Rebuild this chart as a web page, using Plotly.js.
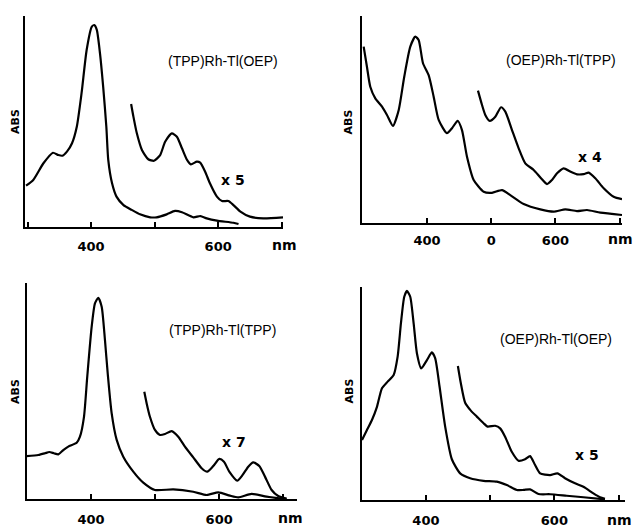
<!DOCTYPE html>
<html>
<head>
<meta charset="utf-8">
<script src="https://cdn.plot.ly/plotly-3.0.1.min.js"></script>
<style>html,body{margin:0;padding:0;background:#fff;}#chart{width:634px;height:527px;}</style>
</head>
<body>
<div id="chart"></div>
<script>
// ---- data (wavelength nm, relative absorbance) ----
const p1MainNm = [297.6,309,325,340,348.5,355,362,370,377.5,385,393,401,405,409,414,419,424,427,433,440,451,464,477,493,503,519,532,543,561,572,582,598,624,632];
const p1MainAbs = [0.196,0.223,0.302,0.352,0.341,0.338,0.357,0.397,0.475,0.634,0.839,0.949,0.957,0.934,0.823,0.665,0.475,0.318,0.207,0.144,0.104,0.081,0.060,0.046,0.046,0.060,0.076,0.070,0.046,0.052,0.041,0.030,0.020,0.014];
const p1ZoomNm = [463,466.6,472,480,490,499,508.7,516.5,527,535,543,551,557,566.5,571.7,579.5,587,598,606,616,624,635,650,671,702];
const p1ZoomAbs = [0.583,0.523,0.444,0.365,0.321,0.314,0.341,0.404,0.444,0.428,0.373,0.318,0.297,0.310,0.305,0.262,0.207,0.144,0.123,0.123,0.104,0.073,0.049,0.041,0.046];

const p2MainNm = [301.4,306.5,311.7,319.5,330,337.7,347,356,364.6,374,381.8,387,393.8,402.6,410.4,418.2,431,439,447.8,454.5,462.3,472.7,488.3,501.2,516.8,529.7,550.6,576.5,597.4,615.4,633.6,649.2,670,703.7];
const p2MainAbs = [0.851,0.754,0.658,0.602,0.562,0.522,0.469,0.546,0.706,0.851,0.899,0.883,0.771,0.714,0.610,0.498,0.434,0.458,0.494,0.449,0.321,0.209,0.152,0.147,0.160,0.136,0.093,0.067,0.056,0.067,0.059,0.064,0.051,0.040];
const p2ZoomNm = [479.4,485.7,490.8,497.7,506.4,515.3,522,532.4,542.8,553.1,566.2,577.6,586.9,594.7,602.5,612.9,623.2,633.6,644,651.8,662.1,675.2,690.7,703.7];
const p2ZoomAbs = [0.639,0.570,0.522,0.493,0.513,0.559,0.538,0.449,0.361,0.289,0.257,0.217,0.189,0.209,0.241,0.265,0.249,0.236,0.237,0.244,0.217,0.169,0.128,0.116];

const p3MainNm = [299.7,317.8,328.2,334.9,342.3,349,356.8,364.6,377.7,382.8,389.1,394.2,401.1,406.2,411.4,416.7,421.8,426.1,432.3,440.1,450.4,466,481.6,499.8,528.4,559.6,580.5,598.6,616.8,629.8,650.7,674.1,705.3];
const p3MainAbs = [0.200,0.205,0.213,0.219,0.213,0.208,0.228,0.244,0.262,0.290,0.382,0.568,0.799,0.907,0.933,0.892,0.738,0.583,0.398,0.275,0.197,0.128,0.077,0.043,0.046,0.035,0.020,0.032,0.017,0.009,0.025,0.012,0.0];
const p3ZoomNm = [483.2,486.9,492,499.8,507.6,515.4,525.9,536.2,546.6,559.6,572.7,581.4,590.8,600.2,607.5,615.8,628.2,636.7,645.4,653.2,662.6,671.5,681.9,692.2,705.3];
const p3ZoomAbs = [0.498,0.444,0.382,0.321,0.298,0.302,0.316,0.290,0.244,0.194,0.144,0.128,0.154,0.187,0.174,0.128,0.086,0.113,0.151,0.171,0.154,0.105,0.043,0.015,0.003];

const p4MainNm = [300.5,308.2,316,323.8,331.6,340.4,349.8,356,361.1,366.3,370.5,375.6,380.9,386,392.7,401.6,409.3,414.5,421.3,430,440.4,453.3,468.9,489.7,510.4,526,541.5,551.9,562.2,575.3,593.3,619.3,645.3,678.8];
const p4MainAbs = [0.281,0.328,0.375,0.437,0.524,0.555,0.586,0.672,0.828,0.953,0.980,0.953,0.828,0.688,0.617,0.656,0.692,0.664,0.531,0.344,0.191,0.125,0.102,0.090,0.086,0.070,0.047,0.047,0.050,0.028,0.027,0.020,0.013,0.003];
const p4ZoomNm = [449.8,454.4,461.1,470,479.3,489.7,496,507.8,515.6,523.3,533.7,544.2,554.4,562.2,570,577.8,593.3,604.8,616.6,632.2,645.3,660.8,671.1,678.8];
const p4ZoomAbs = [0.628,0.547,0.456,0.419,0.391,0.360,0.344,0.348,0.336,0.297,0.226,0.184,0.191,0.206,0.164,0.125,0.117,0.125,0.102,0.078,0.062,0.031,0.013,0.006];

const tickVals = [300,400,500,600,700];
const p1TickText = ["","400","","600",""];
const p2TickText = ["","400","0","600",""];
const p3TickText = ["","400","","600",""];
const p4TickText = ["","400","","600",""];

const compoundNames = ["(TPP)Rh-Tl(OEP)","(OEP)Rh-Tl(TPP)","(TPP)Rh-Tl(TPP)","(OEP)Rh-Tl(OEP)"];
const scaleLabels = ["x 5","x 4","x 7","x 5"];
const yLabel = "ABS";
const unitLabel = "nm";

// ---- drawing ----
const W = 634, H = 527;
const line = {color:'#000', width:2.2, shape:'spline', smoothing:0.6};
function tr(x,y,i){
  const s = i===1 ? '' : String(i);
  return {x:x, y:y, type:'scatter', mode:'lines', line:line, xaxis:'x'+s, yaxis:'y'+s, hoverinfo:'skip'};
}
const data = [
  tr(p1MainNm,p1MainAbs,1), tr(p1ZoomNm,p1ZoomAbs,1),
  tr(p2MainNm,p2MainAbs,2), tr(p2ZoomNm,p2ZoomAbs,2),
  tr(p3MainNm,p3MainAbs,3), tr(p3ZoomNm,p3ZoomAbs,3),
  tr(p4MainNm,p4MainAbs,4), tr(p4ZoomNm,p4ZoomAbs,4)
];

// panel geometry in pixels: [left, right, top, bottom], x range
const panels = [
  {px:[25,283,16,227], range:[296,702], ticks:p1TickText, standoff:6},
  {px:[362,622,15.7,223.3], range:[298.8,703.7], ticks:p2TickText, standoff:4},
  {px:[26.7,296.7,283.3,499.3], range:[299.7,721], ticks:p3TickText, standoff:7},
  {px:[362,625,286.7,500], range:[300.5,710], ticks:p4TickText, standoff:7}
];

const layout = {
  width:W, height:H, margin:{l:0,r:0,t:0,b:0},
  paper_bgcolor:'#fff', plot_bgcolor:'rgba(0,0,0,0)',
  showlegend:false, annotations:[]
};
panels.forEach((p,k)=>{
  const s = k===0 ? '' : String(k+1);
  layout['xaxis'+s] = {
    domain:[p.px[0]/W, p.px[1]/W], range:p.range, anchor:'y'+s,
    showline:true, linecolor:'#000', linewidth:2, showgrid:false, zeroline:false,
    ticks:'inside', ticklen:5, tickwidth:2, tickcolor:'#000',
    tickmode:'array', tickvals:tickVals, ticktext:p.ticks,
    tickfont:{family:'DejaVu Sans', size:13, color:'#000', weight:'bold'},
    ticklabelstandoff:p.standoff, fixedrange:true
  };
  layout['yaxis'+s] = {
    domain:[1-p.px[3]/H, 1-p.px[2]/H], range:[0,1], anchor:'x'+s,
    showline:true, linecolor:'#000', linewidth:2, showgrid:false, zeroline:false,
    showticklabels:false, ticks:'', fixedrange:true
  };
});

function ann(text, x, y, font, extra){
  return Object.assign({text:text, x:x/W, y:1-y/H, xref:'paper', yref:'paper',
    xanchor:'center', yanchor:'middle', showarrow:false, font:font}, extra||{});
}
const nameFont = {family:'Liberation Sans', size:14, color:'#000'};
const boldFont = {family:'DejaVu Sans', size:14, color:'#000', weight:'bold'};
const absFont = {family:'DejaVu Sans', size:11, color:'#000', weight:'bold'};
const nmFont = {family:'DejaVu Sans', size:14, color:'#000', weight:'bold'};

const namePos = [[222.5,61],[561,60],[222.5,330],[556,339]];
const scalePos = [[232.5,180],[590,157],[234,442],[586.5,455]];
const absPos = [[16,122],[348.5,122],[15,392],[348.5,391]];
const nmPos = [[284,245],[620,239],[290,518],[619,520]];
for(let i=0;i<4;i++){
  layout.annotations.push(ann(compoundNames[i], namePos[i][0], namePos[i][1], nameFont));
  layout.annotations.push(ann(scaleLabels[i], scalePos[i][0], scalePos[i][1], boldFont));
  layout.annotations.push(ann(yLabel, absPos[i][0], absPos[i][1], absFont, {textangle:-90}));
  layout.annotations.push(ann(unitLabel, nmPos[i][0], nmPos[i][1], nmFont));
}

Plotly.newPlot('chart', data, layout, {staticPlot:true, displayModeBar:false});
</script>
</body>
</html>
